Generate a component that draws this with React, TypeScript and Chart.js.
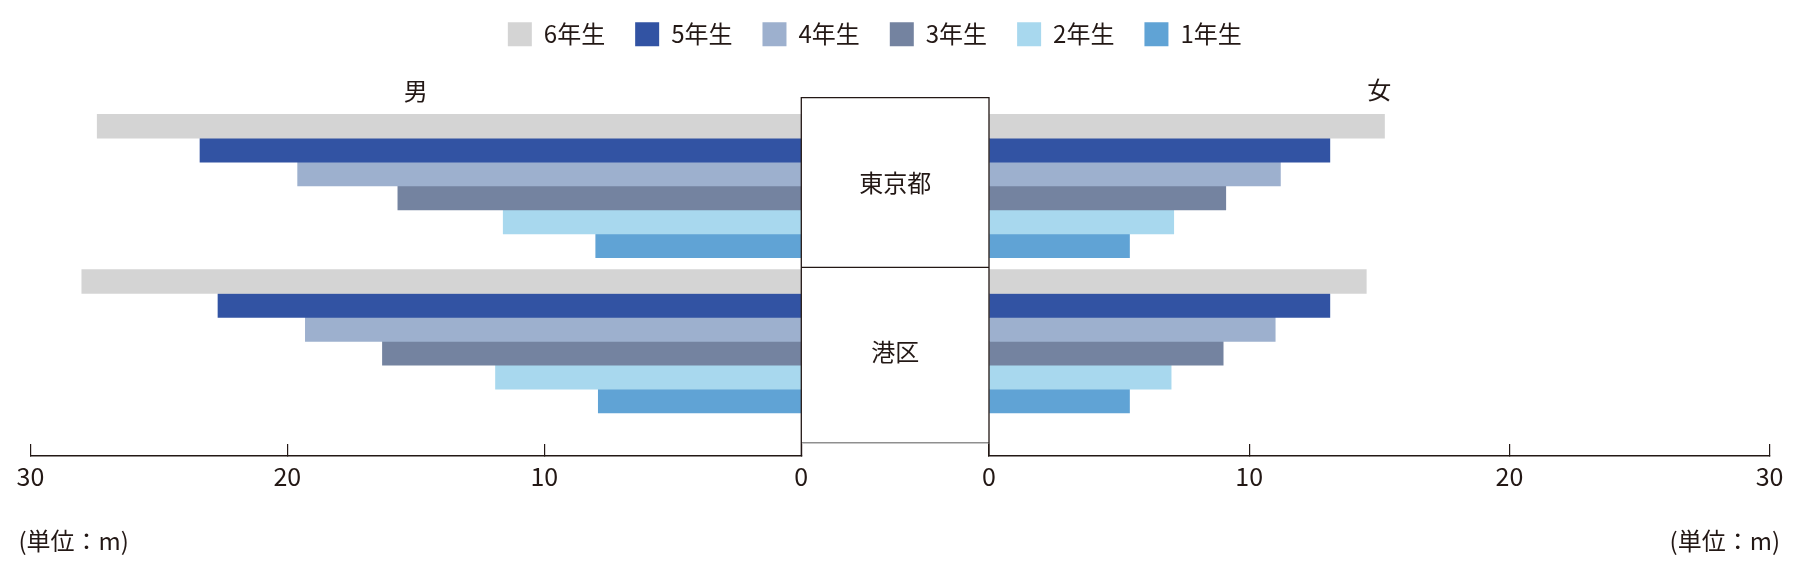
import React, { useEffect, useRef } from 'react';
import { Chart, registerables } from 'chart.js';

Chart.register(...registerables);

// ---- data ----
const GRADES = ['6年生', '5年生', '4年生', '3年生', '2年生', '1年生'];
const REGIONS = ['東京都', '港区'];
const GENDERS = ['男', '女'];
const UNIT_LABEL = '(単位：m)';
const MALE_TOKYO = [27.4, 23.4, 19.6, 15.7, 11.6, 8.0];
const MALE_MINATO = [28.0, 22.7, 19.3, 16.3, 11.9, 7.9];
const FEMALE_TOKYO = [15.2, 13.1, 11.2, 9.1, 7.1, 5.4];
const FEMALE_MINATO = [14.5, 13.1, 11.0, 9.0, 7.0, 5.4];
const X_TICKS = [0, 10, 20, 30];

// ---- styles ----
const COLORS = ['#D4D4D4', '#3253A3', '#9DB0CE', '#7483A0', '#A8D8EE', '#60A3D5'];
const TEXT = '#231815';
const CJK = '"Noto Sans CJK JP", "Noto Sans", sans-serif';

const decorPlugin = {
  id: 'decor',
  afterDatasetsDraw(chart: any) {
    const { ctx, chartArea, scales } = chart;
    const xM = scales.xM;
    const xF = scales.xF;
    const y = scales.y;
    const left = xM.right;
    const right = xF.left;
    const p0 = y.getPixelForValue(0);
    const p1 = y.getPixelForValue(1);
    const top = p0 - 88.3;
    const div = p1 - 74;
    const bottom = p1 + 101.4;
    ctx.save();
    ctx.fillStyle = '#ffffff';
    ctx.fillRect(left, top, right - left, bottom - top);
    // bottom grey line of the frame
    ctx.strokeStyle = '#8f8f8f';
    ctx.lineWidth = 1.6;
    ctx.beginPath();
    ctx.moveTo(left, bottom);
    ctx.lineTo(right, bottom);
    ctx.stroke();
    // frame
    ctx.strokeStyle = TEXT;
    ctx.lineWidth = 1.3;
    ctx.beginPath();
    ctx.moveTo(left, chartArea.bottom);
    ctx.lineTo(left, top);
    ctx.lineTo(right, top);
    ctx.lineTo(right, chartArea.bottom);
    ctx.moveTo(left, div);
    ctx.lineTo(right, div);
    ctx.stroke();

    ctx.fillStyle = TEXT;
    ctx.font = `24px ${CJK}`;
    ctx.textAlign = 'center';
    ctx.textBaseline = 'middle';
    const cx = (left + right) / 2;
    ctx.fillText(REGIONS[0], cx, p0 - 2.7);
    ctx.fillText(REGIONS[1], cx, p1 + 10.4);

    // gender labels
    ctx.fillText(GENDERS[0], xM.getPixelForValue(15), 91);
    ctx.fillText(GENDERS[1], xF.getPixelForValue(15), 90);

    // unit labels
    ctx.textAlign = 'left';
    ctx.fillText(UNIT_LABEL, xM.left - 12, 541);
    ctx.textAlign = 'right';
    ctx.fillText(UNIT_LABEL, xF.right + 10.4, 541);
    ctx.restore();
  },
};

function valueAxis(weight: number, stackWeight: number, reverse: boolean) {
  return {
    type: 'linear',
    position: 'bottom',
    stack: 'bottomStack',
    stackWeight,
    weight,
    reverse,
    min: X_TICKS[0],
    max: X_TICKS[X_TICKS.length - 1],
    afterBuildTicks: (scale: any) => {
      scale.ticks = X_TICKS.map((v) => ({ value: v }));
    },
    ticks: {
      color: TEXT,
      font: { family: CJK, size: 25, lineHeight: 2.264 },
      padding: 4,
      maxRotation: 0,
      minRotation: 0,
      autoSkip: false,
    },
    grid: {
      display: true,
      drawOnChartArea: false,
      drawTicks: true,
      tickLength: -12,
      color: TEXT,
      lineWidth: 1.2,
    },
    border: { display: true, color: TEXT, width: 1.5 },
  };
}

export default function App() {
  const ref = useRef<HTMLCanvasElement>(null);

  useEffect(() => {
    const canvas = ref.current;
    if (!canvas) return;
    const datasets: any[] = [];
    GRADES.forEach((g, i) => {
      datasets.push({
        label: g,
        data: [
          { x: MALE_TOKYO[i], y: 0 },
          { x: MALE_MINATO[i], y: 1 },
        ],
        xAxisID: 'xM',
        yAxisID: 'y',
        stack: 'g' + i,
        backgroundColor: COLORS[i],
        borderWidth: 0,
        barThickness: 23.9,
      });
    });
    GRADES.forEach((g, i) => {
      datasets.push({
        label: g,
        data: [
          { x: FEMALE_TOKYO[i], y: 0 },
          { x: FEMALE_MINATO[i], y: 1 },
        ],
        xAxisID: 'xF',
        yAxisID: 'y',
        stack: 'g' + i,
        backgroundColor: COLORS[i],
        borderWidth: 0,
        barThickness: 23.9,
      });
    });

    const chart = new Chart(canvas, {
      type: 'bar',
      data: { datasets },
      options: {
        indexAxis: 'y',
        animation: false,
        responsive: false,
        devicePixelRatio: 1,
        events: [],
        layout: { padding: { top: -7.7, left: -20, right: 30.4, bottom: 77.4 } },
        plugins: {
          tooltip: { enabled: false },
          legend: {
            display: true,
            position: 'top',
            labels: {
              boxWidth: 24,
              boxHeight: 24,
              padding: 30,
              color: TEXT,
              font: { family: CJK, size: 24 },
              filter: (item: any) => item.datasetIndex < GRADES.length,
            },
          },
        },
        scales: {
          y: {
            type: 'linear',
            position: 'left',
            reverse: true,
            offset: false,
            min: -0.8352,
            max: 1.7385,
            display: true,
            ticks: { display: false },
            grid: { display: false, offset: false },
            border: { display: false },
            afterFit: (scale: any) => {
              scale.width = 50.4;
            },
          },
          xM: valueAxis(0, 770.9, true),
          xGap: {
            type: 'linear',
            position: 'bottom',
            stack: 'bottomStack',
            stackWeight: 187.7,
            weight: 1,
            display: false,
          },
          xF: valueAxis(2, 780.6, false),
        } as any,
      },
      plugins: [decorPlugin],
    } as any);

    return () => chart.destroy();
  }, []);

  return (
    <div style={{ position: 'absolute', left: 0, top: 0, width: 1800, height: 586, background: '#ffffff' }}>
      <canvas ref={ref} width={1800} height={586} style={{ width: 1800, height: 586, display: 'block' }} />
    </div>
  );
}
